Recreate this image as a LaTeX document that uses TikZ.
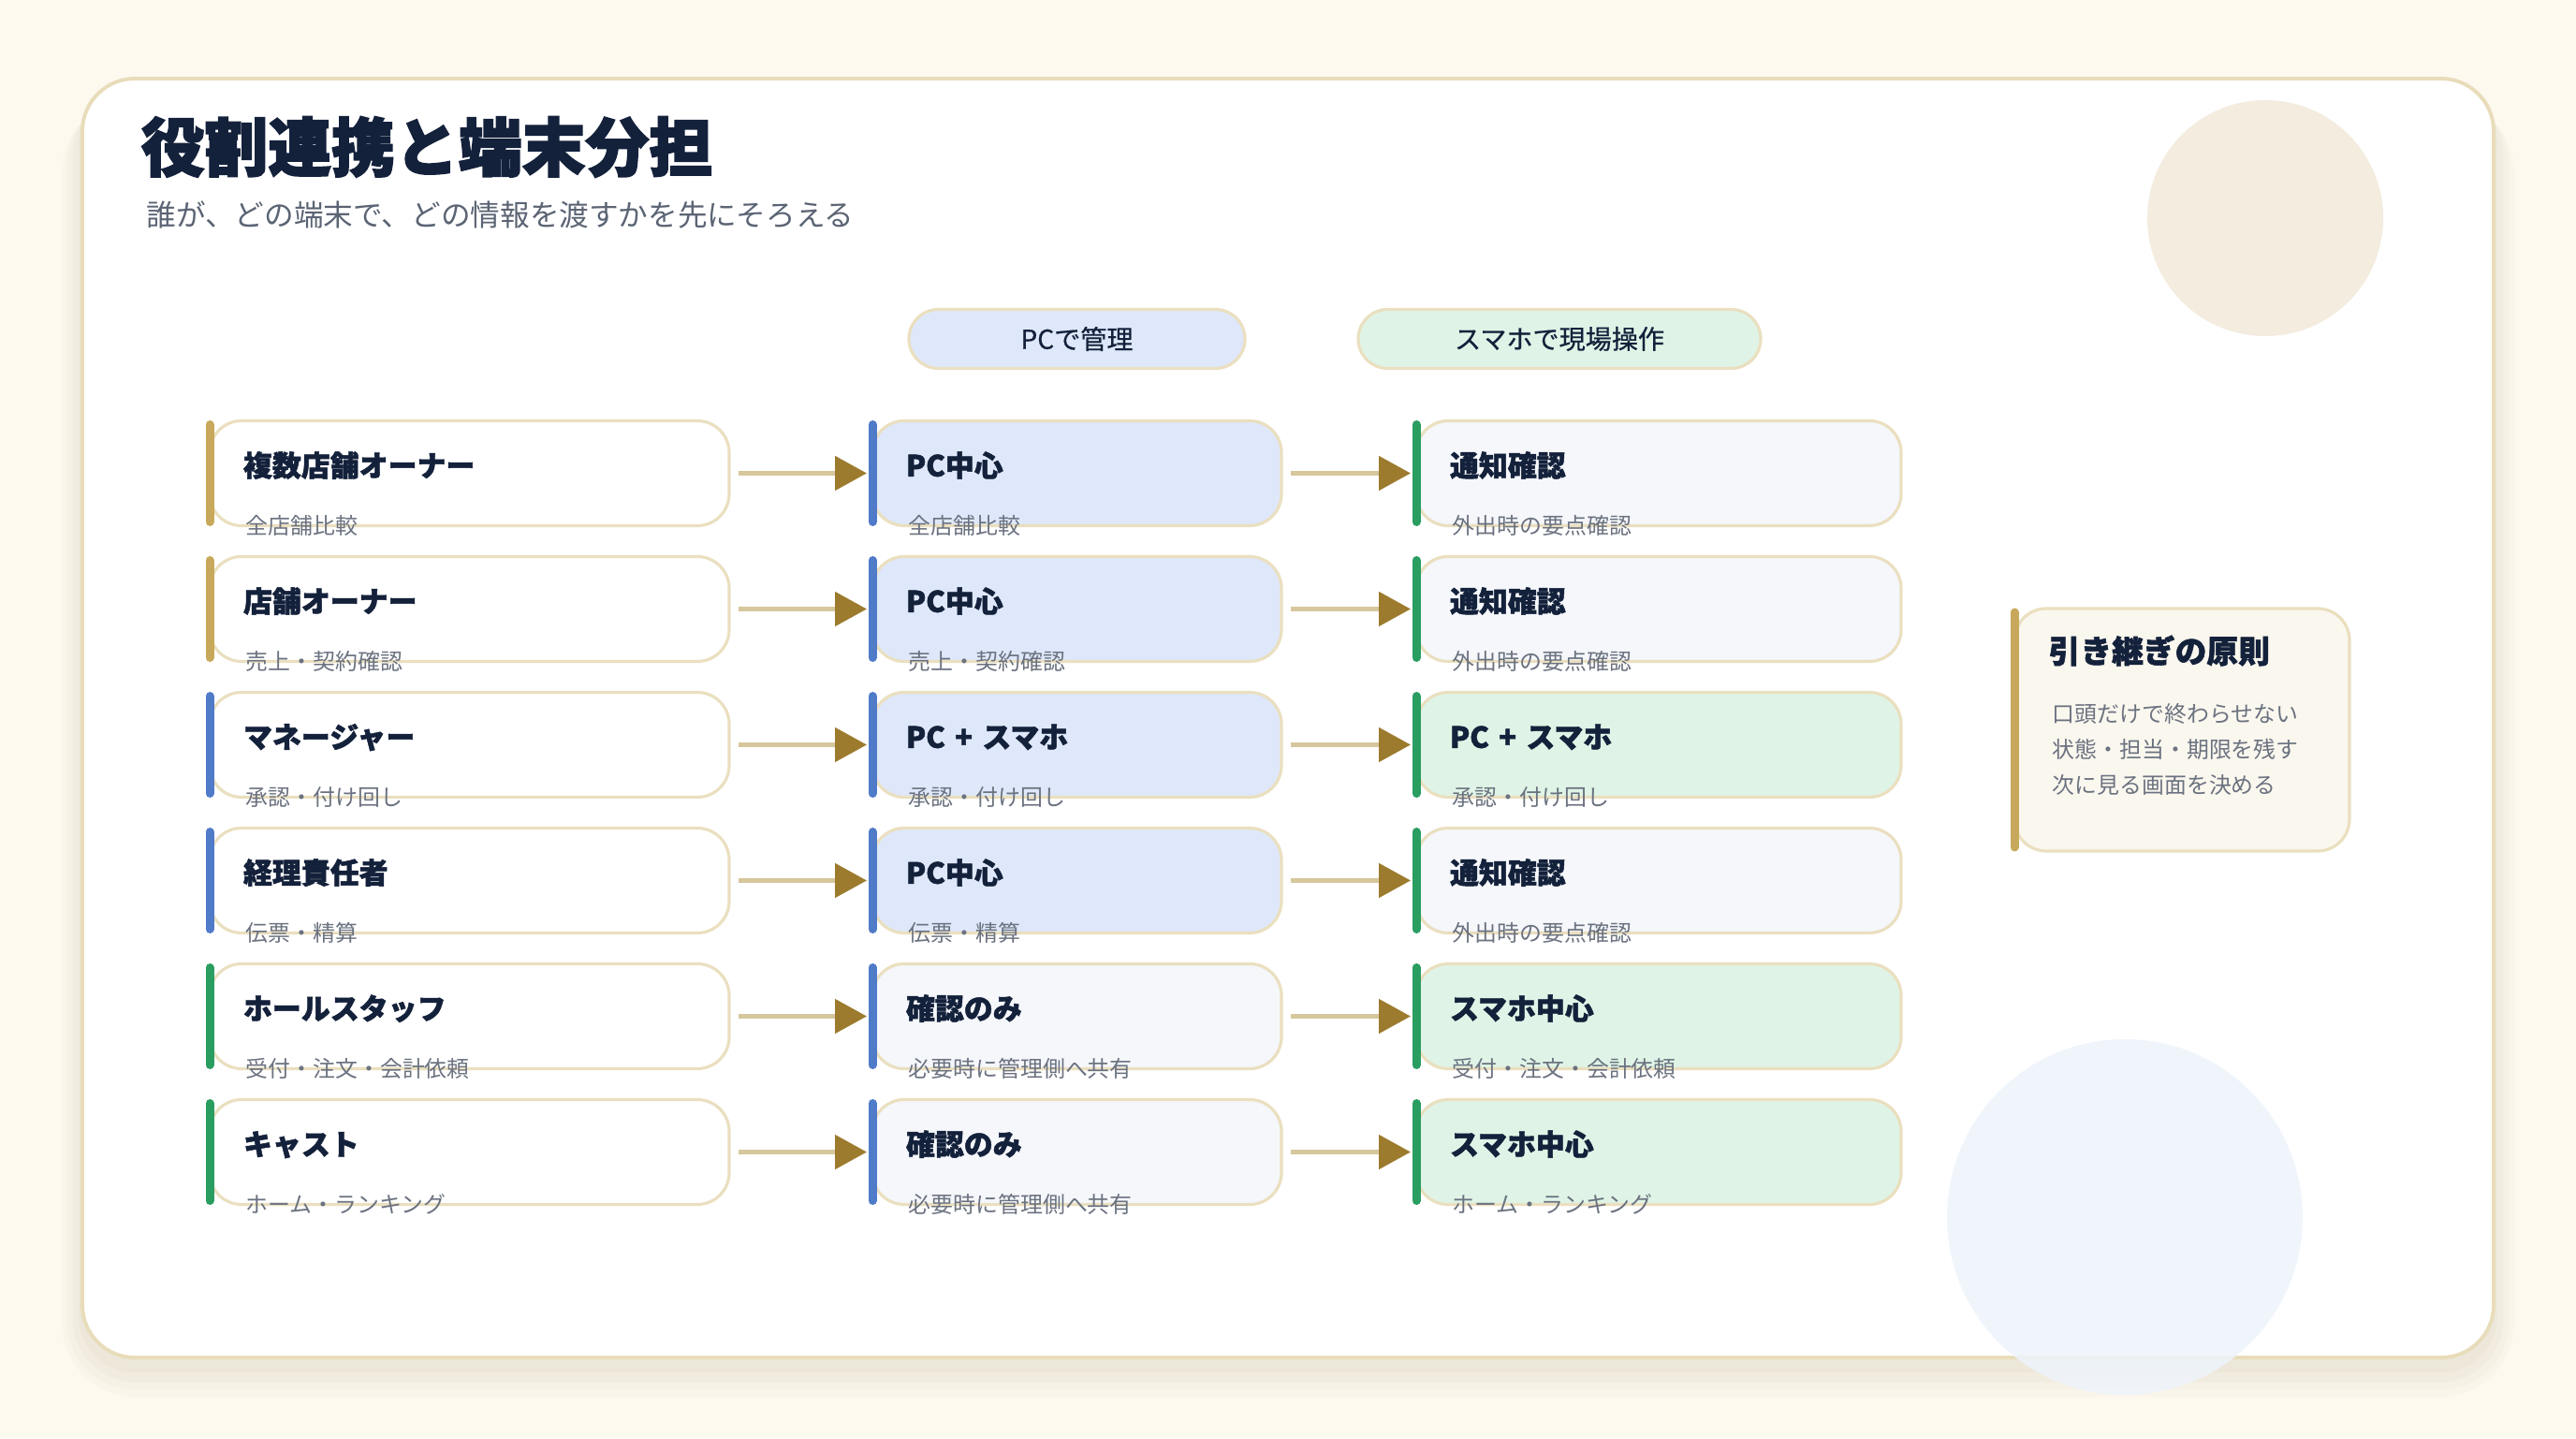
\documentclass[tikz,border=0pt]{standalone}
\usepackage{fontspec}
\setmainfont{Noto Sans CJK JP}
\newfontfamily\heavyfam{Noto Sans CJK JP}[BoldFeatures={FakeBold=2.5}]
\newfontfamily\cardfam{Noto Sans CJK JP}[BoldFeatures={FakeBold=1.6}]
\newfontfamily\pillfam{Noto Sans CJK JP}[FakeBold=0.6]
\usepackage{xcolor}
\usetikzlibrary{arrows.meta, positioning}

\definecolor{paper}{HTML}{FDF9EE}
\definecolor{cardedge}{HTML}{E8DCBA}
\definecolor{cardline}{HTML}{EADFBF}
\definecolor{ink}{HTML}{14213B}
\definecolor{muted}{HTML}{6B7280}
\definecolor{leadgray}{HTML}{5B6474}
\definecolor{goldbar}{HTML}{C8A95B}
\definecolor{bluebar}{HTML}{4F7BC8}
\definecolor{greenbar}{HTML}{2A9D61}
\definecolor{pcfill}{HTML}{DFE8FA}
\definecolor{spfill}{HTML}{DFF4E6}
\definecolor{plainfill}{HTML}{F5F7FB}
\definecolor{sidefill}{HTML}{FAF7EE}
\definecolor{flowline}{HTML}{D6C79C}
\definecolor{flowhead}{HTML}{9C7B2E}
\definecolor{topdisc}{HTML}{F3ECDF}
\definecolor{lowdisc}{HTML}{EEF4FC}
\definecolor{shadowtone}{HTML}{6B5A3A}

\newcommand{\headfont}{\heavyfam\bfseries\fontsize{19.3}{22}\selectfont}
\newcommand{\leadfont}{\fontsize{9}{11}\selectfont}
\newcommand{\cardfont}{\cardfam\bfseries\fontsize{8.8}{10}\selectfont}
\newcommand{\notefont}{\fontsize{6.8}{8}\selectfont}
\newcommand{\pillfont}{\pillfam\fontsize{8}{9}\selectfont}
\newcommand{\sidefont}{\cardfam\bfseries\fontsize{9.6}{11}\selectfont}

\begin{document}
\begin{tikzpicture}[
    rolecard/.style={
        rectangle,
        draw=cardline,
        line width=0.9pt,
        rounded corners=0.34cm,
        minimum height=1.12cm,
        inner xsep=0.36cm,
        inner ysep=0pt,
        outer sep=0pt,
        align=left,
        text=ink,
        font=\cardfont,
        text height=0.2cm,
        text depth=0.134cm
    },
    roleA/.style={rolecard, fill=white, text width=4.83cm},
    roleB/.style={rolecard, text width=3.65cm},
    roleC/.style={rolecard, text width=4.46cm},
    edgebar/.style={
        append after command={
            (\tikzlastnode.north west) edge[draw=#1, line width=0.09cm, line cap=round,
                shorten <=0.04cm, shorten >=0.04cm] (\tikzlastnode.south west)
        }
    },
    subline/.style={label={[notetext]south west:#1}},
    notetext/.style={
        anchor=west,
        xshift=0.38cm,
        inner sep=0pt,
        font=\notefont,
        text=muted
    },
    pill/.style={
        rectangle,
        draw=cardline,
        line width=0.9pt,
        rounded corners=0.315cm,
        minimum height=0.63cm,
        inner sep=0pt,
        outer sep=0pt,
        font=\pillfont,
        text=ink
    },
    sidecard/.style={
        rectangle,
        draw=cardline,
        line width=0.9pt,
        rounded corners=0.34cm,
        fill=sidefill,
        minimum width=3.58cm,
        minimum height=2.59cm,
        outer sep=0pt
    },
    sidetext/.style={anchor=west, inner sep=0pt, font=\notefont, text=muted},
    softshade/.style={fill=shadowtone, opacity=#1},
    flow/.style={
        draw=flowline,
        line width=1.4pt,
        -{Triangle[length=0.34cm, width=0.36cm, color=flowhead]},
        shorten <=0.1cm,
        shorten >=0.06cm
    }
]
    \useasboundingbox (0,0) rectangle (27.52,15.36);

    % 背景とカード (影は薄い層を重ねる)
    \fill[paper] (0,0) rectangle (27.52,15.36);
    \fill[softshade=0.018, rounded corners=0.80cm] (0.66,0.44) rectangle (26.86,14.30);
    \fill[softshade=0.022, rounded corners=0.72cm] (0.72,0.52) rectangle (26.80,14.34);
    \fill[softshade=0.026, rounded corners=0.66cm] (0.78,0.60) rectangle (26.74,14.38);
    \fill[softshade=0.030, rounded corners=0.60cm] (0.84,0.70) rectangle (26.68,14.42);
    \path[fill=white, draw=cardedge, line width=1.1pt, rounded corners=0.56cm]
        (0.88,0.86) rectangle (26.64,14.52);
    \fill[topdisc] (24.20,13.03) circle (1.26);
    \fill[lowdisc, opacity=0.85] (22.70,2.36) circle (1.90);

    % 見出し
    \node (heading) [anchor=west, inner sep=0pt, font=\headfont, text=ink] at (1.50,13.79) {役割連携と端末分担};
    \node (lead) [anchor=west, inner sep=0pt, font=\leadfont, text=leadgray] at (1.56,13.07) {誰が、どの端末で、どの情報を渡すかを先にそろえる};

    % 役割
    \node (multi) [roleA, edgebar=goldbar, subline=全店舗比較] at (5.015,10.305) {複数店舗オーナー};
    \node (store) [roleA, edgebar=goldbar, subline=売上・契約確認, below=0.33cm of multi] {店舗オーナー};
    \node (mgr) [roleA, edgebar=bluebar, subline=承認・付け回し, below=0.33cm of store] {マネージャー};
    \node (acct) [roleA, edgebar=bluebar, subline=伝票・精算, below=0.33cm of mgr] {経理責任者};
    \node (hall) [roleA, edgebar=greenbar, subline=受付・注文・会計依頼, below=0.33cm of acct] {ホールスタッフ};
    \node (cast) [roleA, edgebar=greenbar, subline=ホーム・ランキング, below=0.33cm of hall] {キャスト};

    % PC側
    \node (multiPC) [roleB, fill=pcfill, edgebar=bluebar, subline=全店舗比較, right=1.53cm of multi] {PC中心};
    \node (storePC) [roleB, fill=pcfill, edgebar=bluebar, subline=売上・契約確認, right=1.53cm of store] {PC中心};
    \node (mgrPC) [roleB, fill=pcfill, edgebar=bluebar, subline=承認・付け回し, right=1.53cm of mgr] {PC + スマホ};
    \node (acctPC) [roleB, fill=pcfill, edgebar=bluebar, subline=伝票・精算, right=1.53cm of acct] {PC中心};
    \node (hallPC) [roleB, fill=plainfill, edgebar=bluebar, subline=必要時に管理側へ共有, right=1.53cm of hall] {確認のみ};
    \node (castPC) [roleB, fill=plainfill, edgebar=bluebar, subline=必要時に管理側へ共有, right=1.53cm of cast] {確認のみ};

    % スマホ側
    \node (multiSP) [roleC, fill=plainfill, edgebar=greenbar, subline=外出時の要点確認, right=1.44cm of multiPC] {通知確認};
    \node (storeSP) [roleC, fill=plainfill, edgebar=greenbar, subline=外出時の要点確認, right=1.44cm of storePC] {通知確認};
    \node (mgrSP) [roleC, fill=spfill, edgebar=greenbar, subline=承認・付け回し, right=1.44cm of mgrPC] {PC + スマホ};
    \node (acctSP) [roleC, fill=plainfill, edgebar=greenbar, subline=外出時の要点確認, right=1.44cm of acctPC] {通知確認};
    \node (hallSP) [roleC, fill=spfill, edgebar=greenbar, subline=受付・注文・会計依頼, right=1.44cm of hallPC] {スマホ中心};
    \node (castSP) [roleC, fill=spfill, edgebar=greenbar, subline=ホーム・ランキング, right=1.44cm of castPC] {スマホ中心};

    % 列の見出し
    \node (pcpill) [pill, fill=pcfill, minimum width=3.59cm, above=0.56cm of multiPC] {PCで管理};
    \node (sppill) [pill, fill=spfill, minimum width=4.30cm, right=1.21cm of pcpill] {スマホで現場操作};

    % 矢印
    \draw[flow] (multi) -- (multiPC);
    \draw[flow] (store) -- (storePC);
    \draw[flow] (mgr) -- (mgrPC);
    \draw[flow] (acct) -- (acctPC);
    \draw[flow] (hall) -- (hallPC);
    \draw[flow] (cast) -- (castPC);
    \draw[flow] (multiPC) -- (multiSP);
    \draw[flow] (storePC) -- (storeSP);
    \draw[flow] (mgrPC) -- (mgrSP);
    \draw[flow] (acctPC) -- (acctSP);
    \draw[flow] (hallPC) -- (hallSP);
    \draw[flow] (castPC) -- (castSP);

    % 引き継ぎの原則
    \node (handover) [sidecard, edgebar=goldbar] at (23.31,7.565) {};
    \node (hotitle) [anchor=west, inner sep=0pt, font=\sidefont, text=ink] at ([xshift=0.36cm, yshift=-0.45cm]handover.north west) {引き継ぎの原則};
    \node (hoA) [sidetext] at ([xshift=0.40cm, yshift=-1.12cm]handover.north west) {口頭だけで終わらせない};
    \node (hoB) [sidetext, below=0.38cm of hoA.west, anchor=west] {状態・担当・期限を残す};
    \node (hoC) [sidetext, below=0.38cm of hoB.west, anchor=west] {次に見る画面を決める};
\end{tikzpicture}
\end{document}
